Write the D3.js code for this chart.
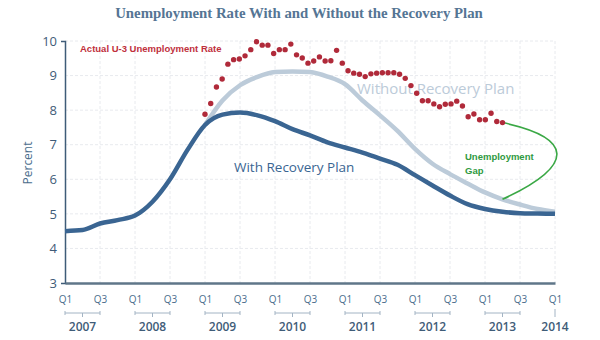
<!DOCTYPE html>
<html>
<head>
<meta charset="utf-8">
<script src="https://cdn.jsdelivr.net/npm/d3@7"></script>
<style>
	body { margin: 0; background: #fff; }
	svg { display: block; }
</style>
</head>
<body>
<div id="chart-area"></div>
<script>

// Axis labels
const years = ["2007", "2008", "2009", "2010", "2011", "2012", "2013", "2014"];
const quarterLabels = ["Q1", "Q3"];
const percentTicks = [3, 4, 5, 6, 7, 8, 9, 10];

// Quarterly rate with the plan, 2007 Q1 - 2014 Q1
const withPlan = [4.50, 4.53, 4.72, 4.82, 4.95, 5.35, 6.00, 6.85,
	7.57, 7.87, 7.93, 7.85, 7.68, 7.45, 7.27, 7.07,
	6.92, 6.77, 6.60, 6.42, 6.12, 5.82, 5.53, 5.28,
	5.14, 5.06, 5.02, 5.01, 5.00];

// Quarterly rate without the plan, 2009 Q1 - 2014 Q1
const withoutStart = 8;
const withoutPlan = [7.57, 8.28, 8.72, 8.96, 9.10, 9.12, 9.10, 8.97,
	8.75, 8.28, 7.85, 7.40, 6.88, 6.45, 6.15, 5.88,
	5.62, 5.42, 5.27, 5.14, 5.06];

// Monthly actual U-3 rate, Jan 2009 onward (plotted 2009 Q1 .. 2013 Q2)
const actualSpan = [8, 25];
const actualRate = [7.88, 8.19, 8.67, 8.90, 9.33, 9.46, 9.48, 9.57, 9.75, 9.98, 9.88, 9.88,
	9.64, 9.75, 9.75, 9.91, 9.60, 9.51, 9.36, 9.42, 9.54, 9.42, 9.43, 9.73,
	9.36, 9.14, 9.07, 9.04, 8.97, 9.05, 9.07, 9.08, 9.08, 9.08, 9.04, 8.92,
	8.71, 8.49, 8.27, 8.27, 8.18, 8.10, 8.17, 8.18, 8.26, 8.12, 7.81, 7.89,
	7.72, 7.72, 7.91, 7.67, 7.64];

let width = 600,
	height = 340;
let margin = {top: 41, right: 45, bottom: 57, left: 65};

let svg = d3.select("#chart-area").append("svg")
	.attr("width", width)
	.attr("height", height);

// quarter index: 0 = 2007 Q1, 28 = 2014 Q1
let x = d3.scaleLinear()
	.domain([0, 28])
	.range([margin.left, width - margin.right]);

let y = d3.scaleLinear()
	.domain([3, 10])
	.range([height - margin.bottom, margin.top]);

let monthX = d3.scaleLinear()
	.domain([0, actualRate.length - 1])
	.range([x(actualSpan[0]), x(actualSpan[1])]);

const axisColor = "#3f5c78";
const labelFont = "'Open Sans', sans-serif";

// title
svg.append("text")
	.attr("x", 299)
	.attr("y", 18)
	.attr("text-anchor", "middle")
	.attr("font-family", "'Liberation Serif', serif")
	.attr("font-weight", "bold")
	.attr("font-size", 14.8)
	.attr("fill", "#557594")
	.text("Unemployment Rate With and Without the Recovery Plan");

// dashed grid
let grid = svg.append("g").attr("stroke", "#e8eaee").attr("stroke-dasharray", "3,2").attr("stroke-width", 1);
grid.selectAll("line.h")
	.data(percentTicks.slice(1))
	.enter().append("line")
	.attr("x1", x(0)).attr("x2", x(28))
	.attr("y1", d => y(d)).attr("y2", d => y(d));
grid.selectAll("line.v")
	.data(d3.range(2, 29, 2))
	.enter().append("line")
	.attr("x1", d => x(d)).attr("x2", d => x(d))
	.attr("y1", y(10)).attr("y2", y(3));

// y axis
let yAxis = d3.axisLeft(y)
	.tickValues(percentTicks)
	.tickFormat(d3.format("d"))
	.tickSizeInner(0)
	.tickSizeOuter(4)
	.tickPadding(8);

let yg = svg.append("g")
	.attr("transform", "translate(" + x(0) + ",0)")
	.call(yAxis);
yg.select(".domain").attr("stroke", axisColor).attr("stroke-width", 1.5);
yg.selectAll("text")
	.attr("font-family", labelFont)
	.attr("font-size", 13)
	.attr("fill", axisColor);

svg.append("text")
	.attr("transform", "rotate(-90)")
	.attr("x", -163)
	.attr("y", 32)
	.attr("text-anchor", "middle")
	.attr("font-family", labelFont)
	.attr("font-size", 12)
	.attr("fill", "#4a6d8c")
	.text("Percent");

// x axis: Q1 / Q3 ticks
let xAxis = d3.axisBottom(x)
	.tickValues(d3.range(0, 29, 2))
	.tickSize(0)
	.tickPadding(13)
	.tickFormat(d => quarterLabels[(d / 2) % 2]);

let xg = svg.append("g")
	.attr("transform", "translate(0," + y(3) + ")")
	.call(xAxis);
xg.select(".domain").attr("stroke", "#5f7689").attr("stroke-width", 2.5);
xg.selectAll("text")
	.attr("font-family", labelFont)
	.attr("font-size", 10)
	.attr("fill", "#4a6d8c");

// year brackets
let bracketY = 313;
let yearG = svg.append("g");
years.forEach((yr, i) => {
	let q = i * 4;
	let g = yearG.append("g").attr("stroke", "#a3b4c4").attr("stroke-width", 1);
	if (i < years.length - 1) {
		g.append("line").attr("x1", x(q)).attr("x2", x(q + 2)).attr("y1", bracketY).attr("y2", bracketY);
		g.append("line").attr("x1", x(q)).attr("x2", x(q)).attr("y1", bracketY - 2).attr("y2", bracketY + 2);
		g.append("line").attr("x1", x(q + 2)).attr("x2", x(q + 2)).attr("y1", bracketY - 2).attr("y2", bracketY + 2);
		g.append("line").attr("x1", x(q + 1)).attr("x2", x(q + 1)).attr("y1", bracketY).attr("y2", bracketY + 4);
	} else {
		g.append("line").attr("x1", x(q)).attr("x2", x(q)).attr("y1", bracketY - 4).attr("y2", bracketY + 4);
	}
	yearG.append("text")
		.attr("x", i < years.length - 1 ? x(q + 1) : x(q))
		.attr("y", 331)
		.attr("text-anchor", "middle")
		.attr("font-family", labelFont)
		.attr("font-weight", 600)
		.attr("font-size", 12)
		.attr("fill", axisColor)
		.text(yr);
});

// lines
let line = d3.line()
	.x(d => x(d.q))
	.y(d => y(d.v))
	.curve(d3.curveMonotoneX);

svg.append("path")
	.datum(withoutPlan.map((v, i) => ({q: withoutStart + i, v: v})))
	.attr("fill", "none")
	.attr("stroke", "#bccbd9")
	.attr("stroke-width", 4.5)
	.attr("d", line);

svg.append("path")
	.datum(withPlan.map((v, i) => ({q: i, v: v})))
	.attr("fill", "none")
	.attr("stroke", "#3a6592")
	.attr("stroke-width", 4.5)
	.attr("d", line);

// series labels
svg.append("text")
	.attr("x", 234).attr("y", 172)
	.attr("font-family", labelFont)
	.attr("font-size", 13.5)
	.attr("fill", "#3a6592")
	.text("With Recovery Plan");

svg.append("text")
	.attr("x", 357).attr("y", 94)
	.attr("font-family", labelFont)
	.attr("font-size", 15)
	.attr("fill", "#bccbd9")
	.text("Without Recovery Plan");

svg.append("text")
	.attr("x", 80).attr("y", 52)
	.attr("font-family", "'Liberation Sans', Arial, sans-serif")
	.attr("font-weight", "bold")
	.attr("font-size", 9.5)
	.attr("fill", "#c0303c")
	.text("Actual U-3 Unemployment Rate");

// unemployment gap bracket, last actual reading to the no-plan line
let lastI = actualRate.length - 1;
let p0 = [monthX(lastI), y(actualRate[lastI])];
let p1 = [x(25), y(withoutPlan[25 - withoutStart])];
svg.append("path")
	.attr("fill", "none")
	.attr("stroke", "#3aa845")
	.attr("stroke-width", 1.6)
	.attr("d", "M" + p0 + "C" + [p0[0] + 70, p0[1] + 15] + " " + [p0[0] + 75, p0[1] + 42] + " " + p1);

let gap = svg.append("text")
	.attr("font-family", "'Liberation Sans', Arial, sans-serif")
	.attr("font-weight", "bold")
	.attr("font-size", 9.5)
	.attr("fill", "#2f9a3f");
gap.append("tspan").attr("x", 465).attr("y", 160).text("Unemployment");
gap.append("tspan").attr("x", 465).attr("y", 174).text("Gap");

// actual rate dots
svg.selectAll("circle")
	.data(actualRate)
	.enter()
	.append("circle")
	.attr("cx", (d, i) => monthX(i))
	.attr("cy", d => y(d))
	.attr("r", 2.7)
	.attr("fill", "#b02a3a");

</script>
</body>
</html>
